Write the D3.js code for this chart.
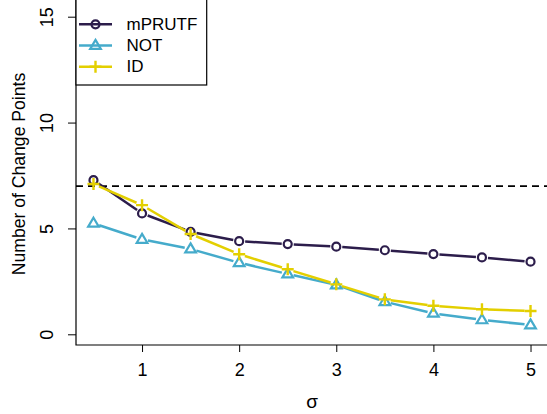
<!DOCTYPE html>
<html><head><meta charset="utf-8">
<script src="https://cdn.jsdelivr.net/npm/d3@7"></script>
<style>body{margin:0;background:#fff}svg{display:block;font-family:"Liberation Sans",Arial,sans-serif}</style>
</head><body>
<svg id="c" width="547" height="414"></svg>
<script>
const sigma = [0.5,1,1.5,2,2.5,3,3.5,4,4.5,5];
const mPRUTF = [7.28,5.71,4.84,4.40,4.26,4.14,3.97,3.79,3.63,3.43];
const NOT = [5.24,4.48,4.03,3.38,2.85,2.33,1.54,0.99,0.68,0.44];
const ID = [7.10,6.10,4.74,3.78,3.07,2.36,1.65,1.35,1.18,1.10];
const seriesNames = ["mPRUTF","NOT","ID"];
const xTicks = [1,2,3,4,5];
const yTicks = [0,5,10,15];
const trueCP = 7;

const colors = {mPRUTF:"#2c1d4b", NOT:"#45abcb", ID:"#e3cf00"};
const shapes = {mPRUTF:"circle", NOT:"triangle", ID:"plus"};
const data = {mPRUTF, NOT, ID};
const FONT = "Liberation Sans, Arial, sans-serif";

const svg = d3.select("#c");
const x = d3.scaleLinear().domain([0.32,5.18]).range([76,548]);
const y = d3.scaleLinear().domain([0,15]).range([334.3,16.7]);
const left = 76, bottom = 345;

// axes
const xAxis = d3.axisBottom(x).tickValues(xTicks).tickSize(7).tickFormat(d3.format("d"));
const gx = svg.append("g").attr("transform",`translate(0,${bottom})`).call(xAxis);
gx.select(".domain").remove();
gx.selectAll("text").attr("font-size",18).attr("fill","#000").attr("font-family",FONT).attr("y",30.5).attr("dy",0);
gx.selectAll("line").attr("stroke","#000");

const yAxis = d3.axisLeft(y).tickValues(yTicks).tickSize(8).tickFormat(d3.format("d"));
const gy = svg.append("g").attr("transform",`translate(${left},0)`).call(yAxis);
gy.select(".domain").remove();
gy.selectAll("line").attr("stroke","#000");
gy.selectAll("text").attr("font-size",18).attr("fill","#000").attr("font-family",FONT)
  .attr("text-anchor","middle").attr("x",0).attr("y",0).attr("dy",0)
  .attr("transform","translate(-23.5,0) rotate(-90)");

// L box
svg.append("path").attr("d",`M${left},0V${bottom}H547`).attr("fill","none").attr("stroke","#000").attr("stroke-width",1.2);

// dashed reference line
svg.append("line").attr("x1",left).attr("x2",547).attr("y1",y(trueCP)).attr("y2",y(trueCP))
  .attr("stroke","#000").attr("stroke-width",1.6).attr("stroke-dasharray","7,5");

function marker(g, shape, cx, cy, col){
  if(shape==="circle"){
    g.append("circle").attr("cx",cx).attr("cy",cy).attr("r",4).attr("fill","none").attr("stroke",col).attr("stroke-width",2.2);
  } else if(shape==="triangle"){
    const r=5.6;
    g.append("path").attr("d",`M${cx},${cy-r}L${cx+r*0.95},${cy+r*0.6}L${cx-r*0.95},${cy+r*0.6}Z`).attr("fill","none").attr("stroke",col).attr("stroke-width",2.2);
  } else {
    const r=6;
    g.append("path").attr("d",`M${cx-r},${cy}H${cx+r}M${cx},${cy-r}V${cy+r}`).attr("fill","none").attr("stroke",col).attr("stroke-width",2.4);
  }
}

const gap = 6;
seriesNames.forEach(name=>{
  const vals = data[name], col = colors[name];
  const g = svg.append("g");
  for(let i=0;i<vals.length-1;i++){
    const x1=x(sigma[i]), y1=y(vals[i]), x2=x(sigma[i+1]), y2=y(vals[i+1]);
    const dx=x2-x1, dy=y2-y1, L=Math.hypot(dx,dy);
    if(L<=2*gap) continue;
    const ux=dx/L, uy=dy/L;
    g.append("line").attr("x1",x1+ux*gap).attr("y1",y1+uy*gap).attr("x2",x2-ux*gap).attr("y2",y2-uy*gap)
      .attr("stroke",col).attr("stroke-width",2.5);
  }
  vals.forEach((v,i)=>marker(g, shapes[name], x(sigma[i]), y(v), col));
});

// legend
const lg = svg.append("g");
lg.append("rect").attr("x",left).attr("y",-1).attr("width",130.7).attr("height",86).attr("fill","#fff").attr("stroke","#000").attr("stroke-width",1.2);
seriesNames.forEach((name,i)=>{
  const ly = 24.3 + i*21.2, col = colors[name];
  lg.append("line").attr("x1",79).attr("x2",112).attr("y1",ly).attr("y2",ly).attr("stroke",col).attr("stroke-width",2.5);
  marker(lg, shapes[name], 95.5, ly, col);
  lg.append("text").attr("x",126.5).attr("y",ly+5.5).attr("font-size",17).attr("font-family",FONT).attr("fill","#000").text(name);
});

// axis titles
svg.append("text").attr("x",312).attr("y",408).attr("text-anchor","middle").attr("font-size",19).attr("font-family",FONT).attr("fill","#000").text("σ");
svg.append("text").attr("transform",`translate(25,174) rotate(-90)`).attr("text-anchor","middle").attr("font-size",17.6).attr("font-family",FONT).attr("fill","#000").text("Number of Change Points");
</script>
</body></html>
